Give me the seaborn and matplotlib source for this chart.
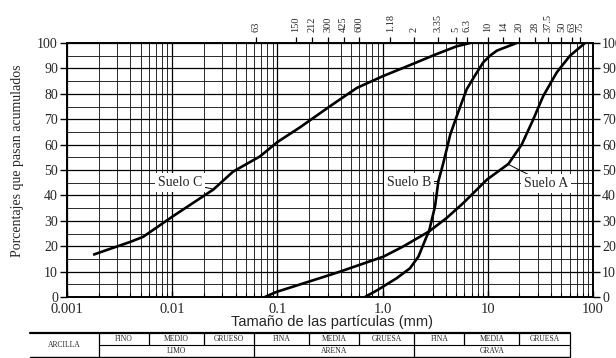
import numpy as np
import pandas as pd
import matplotlib
matplotlib.use("Agg")
import matplotlib.pyplot as plt
import seaborn as sns
from matplotlib.ticker import LogLocator, MultipleLocator, NullLocator, FixedLocator, FixedFormatter

# ---------------- data ----------------
size_a = [0.076, 0.098, 0.316, 0.394, 1.02, 1.57, 2.76, 4.06, 5.85, 9.8, 15.7, 21.0, 27.1, 33.7, 45.2, 60.4, 84.0]
pct_a = [0.0, 2.0, 8.7, 10.0, 15.9, 19.9, 25.8, 31.1, 37.0, 46.2, 52.4, 60.0, 70.0, 79.2, 88.4, 95.0, 100.0]

size_b = [0.68, 0.9, 1.36, 1.82, 2.19, 2.62, 2.76, 3.15, 3.39, 3.78, 4.4, 5.2, 6.3, 7.5, 9.06, 10.5, 12.2, 18.8]
pct_b = [0.0, 2.8, 7.4, 11.3, 15.9, 23.8, 25.8, 35.7, 45.6, 52.8, 64.0, 72.5, 81.8, 87.0, 92.4, 95.0, 97.0, 100.0]

size_c = [0.00177, 0.002, 0.004, 0.0053, 0.01, 0.0246, 0.038, 0.068, 0.1, 0.164, 0.316, 0.568, 1.0, 2.03, 3.15, 5.06, 6.8]
pct_c = [16.6, 17.4, 21.7, 23.7, 31.6, 42.3, 49.4, 55.3, 61.0, 66.8, 75.1, 82.3, 86.9, 92.1, 95.4, 98.7, 100.0]

sieve_mm = [0.063, 0.15, 0.212, 0.3, 0.425, 0.6, 1.18, 2, 3.35, 5, 6.3, 10, 14, 20, 28, 37.5, 50, 63, 75]
sieve_labels = ["63", "150", "212", "300", "425", "600", "1.18", "2", "3.35", "5", "6.3",
                "10", "14", "20", "28", "37.5", "50", "63", "75"]
x_ticks = [0.001, 0.01, 0.1, 1.0, 10, 100]
x_tick_labels = ["0.001", "0.01", "0.1", "1.0", "10", "100"]
y_ticks = [0, 10, 20, 30, 40, 50, 60, 70, 80, 90, 100]

class_bounds = [0.002, 0.006, 0.02, 0.06, 0.2, 0.6, 2, 6, 20, 60]
class_sub = ["FINO", "MEDIO", "GRUESO", "FINA", "MEDIA", "GRUESA", "FINA", "MEDIA", "GRUESA"]
class_main = ["LIMO", "ARENA", "GRAVA"]
clay_label = "ARCILLA"

soil_names = ["Suelo A", "Suelo B", "Suelo C"]

# ---------------- style ----------------
sns.set_theme(style="white")
plt.rcParams["font.family"] = ["Liberation Serif", "DejaVu Serif"]
plt.rcParams["axes.edgecolor"] = "black"

W, H = 616, 358
fig = plt.figure(figsize=(W / 100, H / 100), dpi=100)
L, R, B, T = 67, 593, 297, 43
ax = fig.add_axes([L / W, (H - B) / H, (R - L) / W, (B - T) / H])

ax.set_xscale("log")
ax.set_xlim(1e-3, 100)
ax.set_ylim(0, 100)

ax.xaxis.set_major_locator(FixedLocator(x_ticks))
ax.xaxis.set_major_formatter(FixedFormatter(x_tick_labels))
ax.xaxis.set_minor_locator(LogLocator(base=10, subs=range(2, 10), numticks=20))
ax.yaxis.set_major_locator(FixedLocator(y_ticks))
ax.yaxis.set_minor_locator(MultipleLocator(5))

ax.grid(which="major", color="black", lw=0.9)
ax.grid(which="minor", color="#1a1a1a", lw=0.65)
ax.set_axisbelow(True)

for s in ax.spines.values():
    s.set_linewidth(1.4)
    s.set_color("black")

ax.tick_params(axis="y", which="major", left=True, right=True, labelleft=True, labelright=True,
               direction="out", length=5, width=1.0, color="black", labelsize=10, pad=1.5)
ax.tick_params(axis="y", which="minor", left=False, right=False)
ax.tick_params(axis="x", which="major", bottom=True, direction="in", length=4, width=1.0,
               color="black", labelsize=10.5, pad=4.5)
ax.tick_params(axis="x", which="minor", bottom=True, direction="in", length=3, width=0.8, color="black")

# curves
for name, xs, ys in [(soil_names[0], size_a, pct_a), (soil_names[1], size_b, pct_b), (soil_names[2], size_c, pct_c)]:
    df = pd.DataFrame({"size": xs, "pct": ys})
    sns.lineplot(data=df, x="size", y="pct", ax=ax, color="black", lw=1.9, sort=False,
                 estimator=None, zorder=4, solid_joinstyle="round", solid_capstyle="butt")
ax.set_xlabel("")
ax.set_ylabel("")

# labels with leaders
box = dict(boxstyle="square,pad=0.2", fc="white", ec="none")
arr = dict(arrowstyle="-", lw=0.7, color="black", shrinkA=0, shrinkB=0)
ax.annotate(soil_names[2], xy=(0.0240, 42.6), xytext=(0.0192, 45.1), ha="right", va="center",
            fontsize=10, bbox=box, arrowprops=arr, zorder=6)
ax.annotate(soil_names[1], xy=(3.37, 45.5), xytext=(2.88, 45.1), ha="right", va="center",
            fontsize=10, bbox=box, arrowprops=arr, zorder=6)
ax.annotate(soil_names[0], xy=(15.7, 52.2), xytext=(22.0, 44.7), ha="left", va="center",
            fontsize=10, bbox=box, arrowprops=arr, zorder=6)

# top sieve axis
ax2 = ax.twiny()
ax2.set_xscale("log")
ax2.set_xlim(ax.get_xlim())
ax2.xaxis.set_major_locator(FixedLocator(sieve_mm))
ax2.xaxis.set_major_formatter(FixedFormatter(sieve_labels))
ax2.xaxis.set_minor_locator(NullLocator())
ax2.tick_params(axis="x", which="major", top=True, direction="out", length=4, width=0.9,
                color="black", labelsize=7.5, pad=4, labelrotation=90)
ax2.grid(False)
for s in ax2.spines.values():
    s.set_visible(False)

# axis titles
fig.text(332 / W, (H - 322) / H, "Tamaño de las partículas (mm)", ha="center", va="center",
         fontsize=10.5, family=["Liberation Sans", "DejaVu Sans"])
fig.text(18 / W, (H - 161) / H, "Porcentajes que pasan acumulados", ha="center", va="center",
         rotation=90, fontsize=10)

# classification table
px_per_dec = (R - L) / 5.0
tx0 = 30
tab_left = 10 ** (-3 - (L - tx0) / px_per_dec)
tax = fig.add_axes([tx0 / W, 1.5 / H, (R - tx0) / W, 23.5 / H])
tax.set_xscale("log")
tax.set_xlim(tab_left, 100)
tax.set_ylim(0, 2)
tax.axis("off")
end = class_bounds[-1]
tax.plot([tab_left, end], [2, 2], color="black", lw=1.6, clip_on=False)
tax.plot([class_bounds[0], end], [1, 1], color="black", lw=0.8, clip_on=False)
tax.plot([tab_left, end], [0, 0], color="black", lw=1.0, clip_on=False)
for i, b in enumerate(class_bounds):
    full = (i % 3 == 0)
    tax.plot([b, b], [0 if full else 1, 2], color="black", lw=0.9, clip_on=False)
tkw = dict(ha="center", va="center", fontsize=5.5)
tax.text(np.sqrt(tab_left * class_bounds[0]), 1, clay_label, **tkw)
for i, lab in enumerate(class_sub):
    xc = np.sqrt(class_bounds[i] * class_bounds[i + 1])
    tax.text(xc, 1.5, lab, **tkw)
for i, lab in enumerate(class_main):
    xc = np.sqrt(class_bounds[3 * i] * class_bounds[3 * i + 3])
    tax.text(xc, 0.5, lab, **tkw)

fig.savefig("out.png", dpi=100)
